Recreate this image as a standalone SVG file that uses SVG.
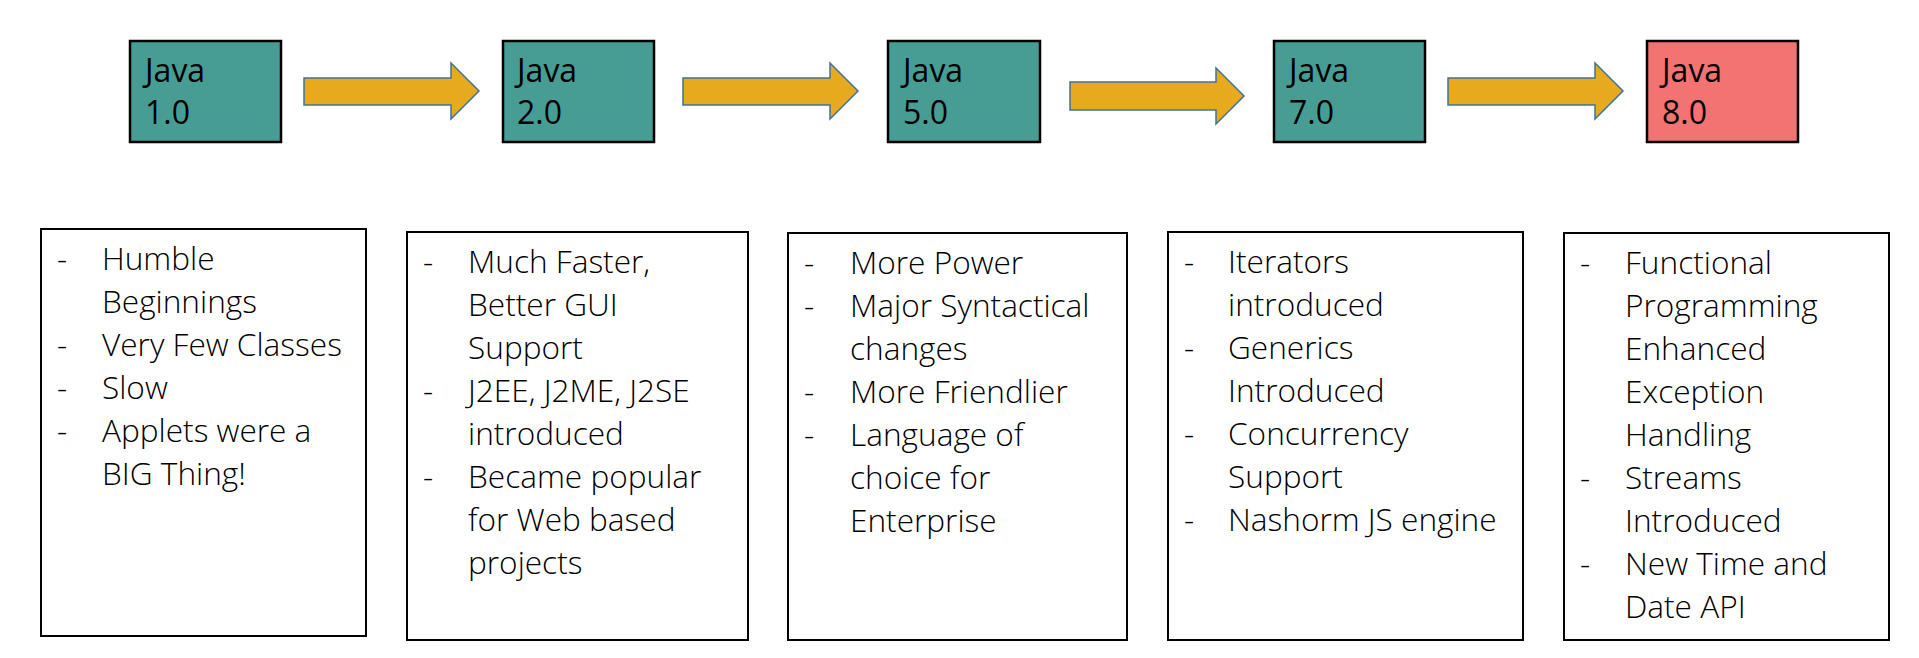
<svg xmlns="http://www.w3.org/2000/svg" width="1919" height="658" viewBox="0 0 1919 658">
<style>
.ver{stroke:#000;stroke-width:2.5}
.teal{fill:#479D94}
.red{fill:#F27372}
.vt{font-family:"Open Sans","Noto Sans","Liberation Sans",sans-serif;font-size:32px;fill:#000}
.card{fill:#fff;stroke:#000;stroke-width:2}
.ct{font-family:"Open Sans","Noto Sans","Liberation Sans",sans-serif;font-size:31.6px;font-weight:300;fill:#000}
.arrow{fill:#E7A91E;stroke:#41719C;stroke-width:1.5;stroke-linejoin:miter}
</style>
<rect width="1919" height="658" fill="#fff"/>

<g id="connectors">
<path class="arrow" d="M304,78 H451 V63 L479,91 L451,119 V105 H304 Z"/>
<path class="arrow" d="M683,78 H830 V63 L858,91 L830,119 V105 H683 Z"/>
<path class="arrow" d="M1070,82 H1216 V68 L1244,96 L1216,124 V110 H1070 Z"/>
<path class="arrow" d="M1448,78 H1595 V63 L1623,91 L1595,119 V105 H1448 Z"/>
</g>

<g id="java10">
<rect class="ver teal" x="130" y="41" width="151" height="101"/>
<text class="vt"><tspan x="145" y="82">Java</tspan><tspan x="145" y="124">1.0</tspan></text>
</g>
<g id="java20">
<rect class="ver teal" x="503" y="41" width="151" height="101"/>
<text class="vt"><tspan x="517" y="82">Java</tspan><tspan x="517" y="124">2.0</tspan></text>
</g>
<g id="java50">
<rect class="ver teal" x="888" y="41" width="152" height="101"/>
<text class="vt"><tspan x="903" y="82">Java</tspan><tspan x="903" y="124">5.0</tspan></text>
</g>
<g id="java70">
<rect class="ver teal" x="1274" y="41" width="151" height="101"/>
<text class="vt"><tspan x="1289" y="82">Java</tspan><tspan x="1289" y="124">7.0</tspan></text>
</g>
<g id="java80">
<rect class="ver red" x="1647" y="41" width="151" height="101"/>
<text class="vt"><tspan x="1662" y="82">Java</tspan><tspan x="1662" y="124">8.0</tspan></text>
</g>

<g id="notes10">
<rect class="card" x="41" y="229" width="325" height="407"/>
<text class="ct">
<tspan x="57" y="270">-</tspan><tspan x="102" y="270">Humble</tspan>
<tspan x="102" y="313">Beginnings</tspan>
<tspan x="57" y="356">-</tspan><tspan x="102" y="356">Very Few Classes</tspan>
<tspan x="57" y="399">-</tspan><tspan x="102" y="399">Slow</tspan>
<tspan x="57" y="442">-</tspan><tspan x="102" y="442">Applets were a</tspan>
<tspan x="102" y="485">BIG Thing!</tspan>
</text>
</g>
<g id="notes20">
<rect class="card" x="407" y="232" width="341" height="408"/>
<text class="ct">
<tspan x="423" y="273">-</tspan><tspan x="468" y="273">Much Faster,</tspan>
<tspan x="468" y="316">Better GUI</tspan>
<tspan x="468" y="359">Support</tspan>
<tspan x="423" y="402">-</tspan><tspan x="468" y="402">J2EE, J2ME, J2SE</tspan>
<tspan x="468" y="445">introduced</tspan>
<tspan x="423" y="488">-</tspan><tspan x="468" y="488">Became popular</tspan>
<tspan x="468" y="531">for Web based</tspan>
<tspan x="468" y="574">projects</tspan>
</text>
</g>
<g id="notes50">
<rect class="card" x="788" y="233" width="339" height="407"/>
<text class="ct">
<tspan x="804" y="274">-</tspan><tspan x="850" y="274">More Power</tspan>
<tspan x="804" y="317">-</tspan><tspan x="850" y="317">Major Syntactical</tspan>
<tspan x="850" y="360">changes</tspan>
<tspan x="804" y="403">-</tspan><tspan x="850" y="403">More Friendlier</tspan>
<tspan x="804" y="446">-</tspan><tspan x="850" y="446">Language of</tspan>
<tspan x="850" y="489">choice for</tspan>
<tspan x="850" y="532">Enterprise</tspan>
</text>
</g>
<g id="notes70">
<rect class="card" x="1168" y="232" width="355" height="408"/>
<text class="ct">
<tspan x="1184" y="273">-</tspan><tspan x="1228" y="273">Iterators</tspan>
<tspan x="1228" y="316">introduced</tspan>
<tspan x="1184" y="359">-</tspan><tspan x="1228" y="359">Generics</tspan>
<tspan x="1228" y="402">Introduced</tspan>
<tspan x="1184" y="445">-</tspan><tspan x="1228" y="445">Concurrency</tspan>
<tspan x="1228" y="488">Support</tspan>
<tspan x="1184" y="531">-</tspan><tspan x="1228" y="531">Nashorm JS engine</tspan>
</text>
</g>
<g id="notes80">
<rect class="card" x="1564" y="233" width="325" height="407"/>
<text class="ct">
<tspan x="1580" y="274">-</tspan><tspan x="1625" y="274">Functional</tspan>
<tspan x="1625" y="317">Programming</tspan>
<tspan x="1625" y="360">Enhanced</tspan>
<tspan x="1625" y="403">Exception</tspan>
<tspan x="1625" y="446">Handling</tspan>
<tspan x="1580" y="489">-</tspan><tspan x="1625" y="489">Streams</tspan>
<tspan x="1625" y="532">Introduced</tspan>
<tspan x="1580" y="575">-</tspan><tspan x="1625" y="575">New Time and</tspan>
<tspan x="1625" y="618">Date API</tspan>
</text>
</g>
</svg>
